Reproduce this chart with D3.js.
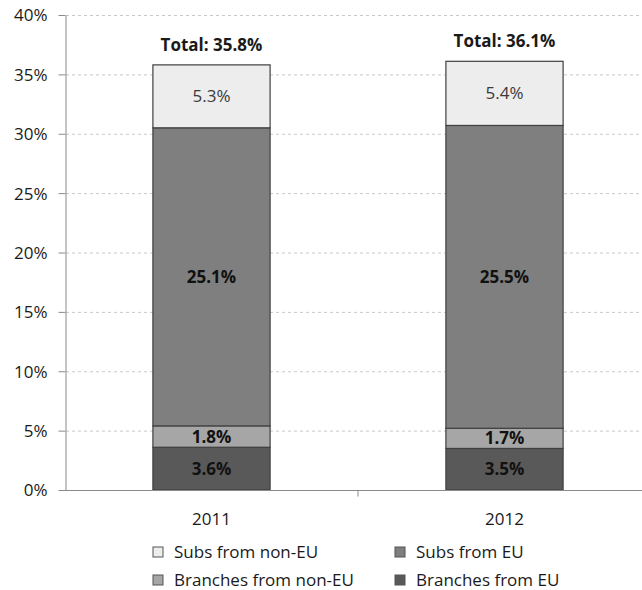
<!DOCTYPE html>
<html>
<head>
<meta charset="utf-8">
<script src="https://cdn.jsdelivr.net/npm/d3@7"></script>
<style>
  body { margin: 0; background: #fff; }
  svg text { font-family: "Open Sans", Lato, sans-serif; fill: #1a1a1a; }
  .grid line { stroke: #c8c8c8; stroke-dasharray: 3,3; }
  .axis path, .axis line { stroke: #8a8a8a; }
  .axis text { font-size: 17px; }
</style>
</head>
<body>
<svg id="myGraph" width="642" height="590"></svg>
<script>
// data
var years = ["2011", "2012"];
var seriesNames = ["Branches from EU", "Branches from non-EU", "Subs from EU", "Subs from non-EU"];
var branchesEU = [3.6, 3.5];
var branchesNonEU = [1.8, 1.7];
var subsEU = [25.1, 25.5];
var subsNonEU = [5.3, 5.4];
var totals = [35.8, 36.1];
var yTicks = [0, 5, 10, 15, 20, 25, 30, 35, 40];

var colors = ["#595959", "#a6a6a6", "#7f7f7f", "#ededed"];
var boldLabel = [true, true, true, false];

var svg = d3.select("#myGraph");

// scales
var x = d3.scaleBand()
    .domain(years)
    .range([65, 651])
    .paddingInner(0.6)
    .paddingOuter(0.3);
var y = d3.scaleLinear()
    .domain([0, 40])
    .range([490, 15]);

// stacked table built from the arrays
var table = years.map(function(yr, i) {
  return { year: yr, "Branches from EU": branchesEU[i], "Branches from non-EU": branchesNonEU[i],
           "Subs from EU": subsEU[i], "Subs from non-EU": subsNonEU[i] };
});
var stacked = d3.stack().keys(seriesNames)(table);

// gridlines
svg.append("g")
    .attr("class", "grid")
    .selectAll("line")
    .data(yTicks.filter(function(d){ return d > 0; }))
    .enter().append("line")
    .attr("x1", 66).attr("x2", 642)
    .attr("y1", function(d){ return y(d) + 0.5; })
    .attr("y2", function(d){ return y(d) + 0.5; });

// bars
var layers = svg.selectAll("g.layer")
    .data(stacked)
    .enter().append("g")
    .attr("class", "layer")
    .attr("fill", function(d, i){ return colors[i]; });

layers.selectAll("rect")
    .data(function(d){ return d; })
    .enter().append("rect")
    .attr("x", function(d){ return x(d.data.year); })
    .attr("y", function(d){ return y(d[1]); })
    .attr("width", x.bandwidth())
    .attr("height", function(d){ return y(d[0]) - y(d[1]); })
    .attr("stroke", "#404040")
    .attr("stroke-width", 1.2);

// value labels inside the segments
layers.each(function(layer, li) {
  d3.select(this).selectAll("text")
    .data(layer)
    .enter().append("text")
    .attr("x", function(d){ return x(d.data.year) + x.bandwidth() / 2; })
    .attr("y", function(d){ return (y(d[0]) + y(d[1])) / 2 + 6; })
    .attr("text-anchor", "middle")
    .style("font-size", "17px")
    .style("font-weight", boldLabel[li] ? "bold" : "normal")
    .style("fill", li == 3 ? "#3a3a3a" : "#111")
    .text(function(d){ return (d[1] - d[0]).toFixed(1) + "%"; });
});

// totals above bars
svg.selectAll("text.total")
    .data(totals)
    .enter().append("text")
    .attr("class", "total")
    .attr("x", function(d, i){ return x(years[i]) + x.bandwidth() / 2; })
    .attr("y", function(d){ return y(d) - 14; })
    .attr("text-anchor", "middle")
    .style("font-size", "17px")
    .style("font-weight", "bold")
    .text(function(d){ return "Total: " + d.toFixed(1) + "%"; });

// y axis
svg.append("g")
    .attr("class", "axis")
    .attr("transform", "translate(65.5,0)")
    .call(d3.axisLeft(y).tickValues(yTicks).tickSize(7).tickSizeOuter(0).tickPadding(11)
      .tickFormat(function(d){ return d + "%"; }))
    .call(function(g){ g.selectAll("text").attr("dy", "0.35em"); });

// x axis
var xAxis = svg.append("g")
    .attr("class", "axis")
    .attr("transform", "translate(0,490.5)")
    .call(d3.axisBottom(x).tickSize(0).tickSizeOuter(0).tickPadding(22));
xAxis.select("path").attr("d", "M65,0H642");
xAxis.append("line")
    .attr("x1", (x(years[0]) + x(years[1]) + x.bandwidth()) / 2)
    .attr("x2", (x(years[0]) + x(years[1]) + x.bandwidth()) / 2)
    .attr("y1", 0).attr("y2", 6);

// legend
var legendOrder = [3, 2, 1, 0];
var legend = svg.selectAll("g.legend")
    .data(legendOrder)
    .enter().append("g")
    .attr("class", "legend")
    .attr("transform", function(d, i){
      return "translate(" + (i % 2 == 0 ? 153 : 395) + "," + (i < 2 ? 552 : 580) + ")";
    });
legend.append("rect")
    .attr("x", 0).attr("y", -5)
    .attr("width", 10).attr("height", 10)
    .attr("fill", function(d){ return colors[d]; })
    .attr("stroke", "#555");
legend.append("text")
    .attr("x", 21).attr("y", 6)
    .style("font-size", "17px")
    .text(function(d){ return seriesNames[d]; });
</script>
</body>
</html>
